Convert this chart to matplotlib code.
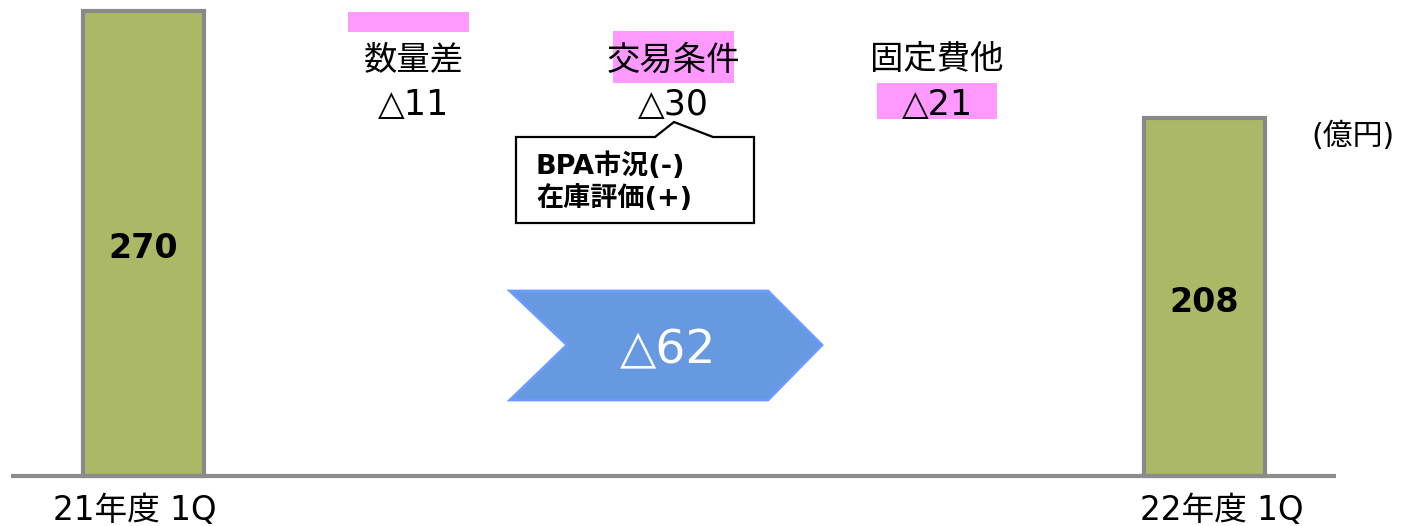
import matplotlib
matplotlib.use("Agg")
import matplotlib.pyplot as plt
from matplotlib.patches import Polygon, Rectangle

plt.rcParams['font.family'] = ['DejaVu Sans', 'Noto Sans CJK JP']

# data
periods = ['21年度 1Q', '22年度 1Q']
totals = [270, 208]
factors = ['数量差', '交易条件', '固定費他']
factor_deltas = [-11, -30, -21]
note_lines = ['BPA市況(-)', '在庫評価(+)']
unit = '(億円)'

W, H = 1402, 526
fig = plt.figure(figsize=(W / 100, H / 100), dpi=100)
ax = fig.add_axes([0, 0, 1, 1])
ax.set_axis_off()

# value scale: baseline at pixel row 476, 270 at row 11
base_px = 476
scale = (476 - 11) / totals[0]
ax.set_xlim(0, W)
ax.set_ylim(-(H - base_px) / scale, base_px / scale)


def fy(py):
    # pixel row -> data y
    return (base_px - py) / scale


bar_x = [143.5, 1204]
ax.bar(bar_x, totals, width=121, color='#abb966', edgecolor='#898989',
       linewidth=3, zorder=2)
ax.plot([11, 1336], [0, 0], color='#8c8c8c', lw=3, solid_capstyle='butt', zorder=3)

for x, v in zip(bar_x, totals):
    ax.text(x, v / 2 - 3, str(v), ha='center', va='center', fontsize=24,
            fontweight='bold', color='black', zorder=4)
for x, lab in zip([135, 1222], periods):
    ax.text(x, fy(511), lab, ha='center', va='center', fontsize=23.5)

# factor labels
pink = '#ff99ff'
fx = [414, 673, 937]
ax.add_patch(Rectangle((348, fy(32)), 121, fy(12) - fy(32), color=pink, lw=0))
ax.add_patch(Rectangle((613, fy(83)), 121, fy(31) - fy(83), color=pink, lw=0))
ax.add_patch(Rectangle((877, fy(119)), 120, fy(83) - fy(119), color=pink, lw=0))
for x, name, d in zip(fx, factors, factor_deltas):
    ax.text(x, fy(60), name, ha='center', va='center', fontsize=24)
    ax.text(x, fy(105), '△' + str(abs(d)), ha='center', va='center', fontsize=25)

# callout
call = [(516, 137), (655, 137), (674, 122), (713, 137), (754, 137), (754, 223), (516, 223)]
ax.add_patch(Polygon([(x, fy(y)) for x, y in call], closed=True, facecolor='white',
                     edgecolor='black', lw=1.6, zorder=3))
ax.text(536, fy(166), note_lines[0], ha='left', va='center', fontsize=19.5,
        fontweight='bold', zorder=4)
ax.text(536, fy(199), note_lines[1], ha='left', va='center', fontsize=19.5,
        fontweight='bold', zorder=4)

# total change chevron
chev = [(510, 291), (768, 291), (822, 345), (768, 400), (510, 400), (567, 345)]
ax.add_patch(Polygon([(x, fy(y)) for x, y in chev], closed=True, facecolor='#6699e0',
                     edgecolor='#6b9bff', lw=2, zorder=3))
ax.text(668, fy(351), '△' + str(totals[0] - totals[1]), ha='center', va='center',
        fontsize=34, color='white', zorder=4)

ax.text(1353, fy(136), unit, ha='center', va='center', fontsize=21.5)

fig.savefig('out.png', dpi=100)
